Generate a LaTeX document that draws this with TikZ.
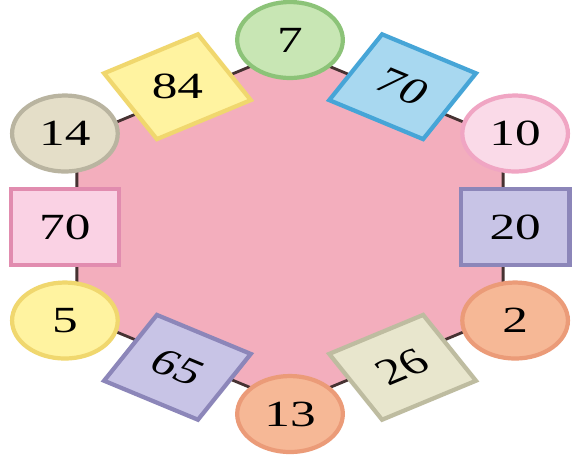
\documentclass[tikz,border=0pt]{standalone}
\usepackage{fontspec}
\setmainfont{Liberation Serif}

\definecolor{hexpink}{RGB}{243,174,189}
\definecolor{hexline}{RGB}{70,50,50}
\definecolor{greenfill}{RGB}{200,230,180}
\definecolor{greenline}{RGB}{140,195,120}
\definecolor{yellowfill}{RGB}{255,243,160}
\definecolor{yellowline}{RGB}{240,215,110}
\definecolor{bluefill}{RGB}{168,216,240}
\definecolor{blueline}{RGB}{70,165,215}
\definecolor{pinkfill}{RGB}{250,218,232}
\definecolor{pinkline}{RGB}{240,165,195}
\definecolor{rosefill}{RGB}{250,210,228}
\definecolor{roseline}{RGB}{225,140,175}
\definecolor{lilacfill}{RGB}{200,196,230}
\definecolor{lilacline}{RGB}{140,134,185}
\definecolor{peachfill}{RGB}{246,184,150}
\definecolor{peachline}{RGB}{235,155,120}
\definecolor{beigefill}{RGB}{232,230,205}
\definecolor{beigeline}{RGB}{190,188,160}
\definecolor{sandfill}{RGB}{228,222,200}
\definecolor{sandline}{RGB}{185,180,160}

\begin{document}
\begin{tikzpicture}[
  every node/.style={font=\fontsize{10.5}{12}\selectfont},
  disc/.style={circle, draw, line width=1.2pt, minimum size=0.76cm, inner sep=0pt},
  tile/.style={rectangle, draw, line width=1.2pt, minimum width=0.78cm, minimum height=0.76cm, inner sep=0pt},
  tiltup/.style={tile, cm={1.2037,0.5,-0.695,0.866,(0,0)}},
  tiltdown/.style={tile, cm={1.2037,-0.5,0.695,0.866,(0,0)}},
  rim/.style={draw=hexline, line width=0.8pt}
]

\useasboundingbox (0,0) rectangle (5.73,4.55);
\fill[white] (0,0) rectangle (5.73,4.55);

\begin{scope}[shift={(2.90,2.28)}, xscale=1.39, transform shape]

% === PINK HEXAGON ===
\coordinate (h1) at (90:1.77);
\coordinate (h2) at (30:1.77);
\coordinate (h3) at (-30:1.77);
\coordinate (h4) at (-90:1.77);
\coordinate (h5) at (-150:1.77);
\coordinate (h6) at (150:1.77);
\filldraw[rim, fill=hexpink] (h1) -- (h2) -- (h3) -- (h4) -- (h5) -- (h6) -- cycle;

% === CORNER DISCS ===
\node[disc, fill=greenfill, draw=greenline] (c7) at (90:1.87) {7};
\node[disc, fill=pinkfill, draw=pinkline] (c10) at (30:1.87) {10};
\node[disc, fill=peachfill, draw=peachline] (c2) at (-30:1.87) {2};
\node[disc, fill=peachfill, draw=peachline] (c13) at (-90:1.87) {13};
\node[disc, fill=yellowfill, draw=yellowline] (c5) at (-150:1.87) {5};
\node[disc, fill=sandfill, draw=sandline] (c14) at (150:1.87) {14};

% === UPRIGHT TILES ===
\node[tile, fill=lilacfill, draw=lilacline] (s20) at (0:1.62) {20};
\node[tile, fill=rosefill, draw=roseline] (s70b) at (180:1.62) {70};

% slots for the tilted tiles
\coordinate (p84) at (120:1.62);
\coordinate (p70) at (60:1.62);
\coordinate (p26) at (-60:1.62);
\coordinate (p65) at (-120:1.62);

\end{scope}

% === TILTED TILES ===
\node[tiltup, fill=yellowfill, draw=yellowline] (s84) at (p84) {};
\node[tiltdown, fill=bluefill, draw=blueline] (s70a) at (p70) {70};
\node[tiltup, fill=beigefill, draw=beigeline] (s26) at (p26) {26};
\node[tiltdown, fill=lilacfill, draw=lilacline] (s65) at (p65) {65};
\node[xscale=1.39] (t84) at (s84.center) {84};

\end{tikzpicture}
\end{document}
